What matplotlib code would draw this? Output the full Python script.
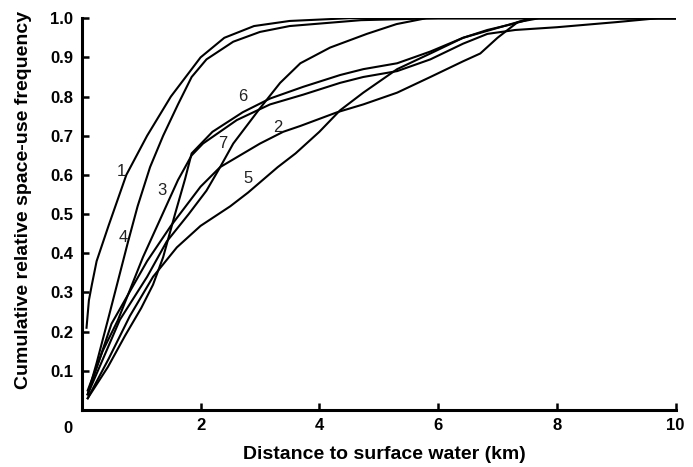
import matplotlib
matplotlib.use("Agg")
import matplotlib.pyplot as plt

plt.rcParams['font.family'] = ['Liberation Sans', 'DejaVu Sans']

# curves: distance (km), cumulative frequency
x1 = [0.08, 0.12, 0.17, 0.25, 0.45, 0.75, 1.1, 1.5, 2.0, 2.4, 2.9, 3.5, 4.5, 10]
y1 = [0.21, 0.28, 0.32, 0.38, 0.47, 0.60, 0.70, 0.80, 0.90, 0.95, 0.98, 0.993, 1.0, 1.0]

x4 = [0.1, 0.25, 0.44, 0.61, 0.78, 0.94, 1.15, 1.37, 1.62, 1.85, 2.1, 2.55, 3.0, 3.5, 4.7, 6.0, 10]
y4 = [0.04, 0.12, 0.23, 0.33, 0.43, 0.52, 0.62, 0.70, 0.78, 0.85, 0.895, 0.94, 0.965, 0.98, 0.995, 1.0, 1.0]

x3 = [0.1, 0.35, 0.61, 1.03, 1.3, 1.62, 1.85, 2.04, 2.61, 3.17, 3.73, 4.35, 4.74, 5.31,
      5.87, 6.42, 6.83, 7.3, 8.0, 9.0, 9.7, 10]
y3 = [0.05, 0.15, 0.23, 0.39, 0.48, 0.587, 0.65, 0.68, 0.74, 0.78, 0.805, 0.835, 0.85, 0.865,
      0.895, 0.935, 0.96, 0.97, 0.977, 0.99, 1.0, 1.0]

x6 = [0.1, 0.44, 0.73, 1.0, 1.2, 1.37, 1.57, 1.74, 1.85, 2.2, 2.71, 3.17, 3.73, 4.35,
      4.74, 5.31, 5.87, 6.42, 6.83, 7.25, 7.6, 10]
y6 = [0.03, 0.11, 0.19, 0.26, 0.32, 0.39, 0.50, 0.59, 0.655, 0.71, 0.76, 0.795, 0.825, 0.855,
      0.87, 0.885, 0.915, 0.95, 0.97, 0.985, 1.0, 1.0]

x2 = [0.1, 0.5, 1.1, 1.5, 2.0, 2.33, 3.0, 3.39, 3.68, 4.3, 4.74, 5.31, 5.87, 6.42,
      6.71, 7.0, 7.17, 7.34, 7.7, 10]
y2 = [0.04, 0.22, 0.38, 0.47, 0.57, 0.62, 0.68, 0.71, 0.725, 0.76, 0.78, 0.81, 0.85, 0.89,
      0.91, 0.95, 0.97, 0.99, 1.0, 1.0]

x7 = [0.1, 0.64, 1.1, 1.43, 1.8, 2.1, 2.33, 2.55, 3.0, 3.34, 3.68, 4.18, 4.8, 5.3, 5.8, 10]
y7 = [0.04, 0.23, 0.34, 0.43, 0.50, 0.56, 0.62, 0.68, 0.77, 0.835, 0.885, 0.925, 0.96, 0.985, 1.0, 1.0]

x5 = [0.1, 0.45, 0.81, 1.2, 1.6, 2.0, 2.5, 2.8, 3.3, 3.6, 4.0, 4.35, 4.74, 5.31,
      5.87, 6.42, 6.88, 7.34, 7.55, 10]
y5 = [0.03, 0.13, 0.24, 0.34, 0.415, 0.47, 0.52, 0.555, 0.62, 0.655, 0.71, 0.765, 0.81, 0.87,
      0.91, 0.95, 0.97, 0.99, 1.0, 1.0]

curve_labels = ['1', '2', '3', '4', '5', '6', '7']
label_x = [0.66, 3.3, 1.35, 0.69, 2.8, 2.71, 2.38]
label_y = [0.61, 0.72, 0.56, 0.44, 0.59, 0.80, 0.68]

fig = plt.figure(figsize=(6.93, 4.67), dpi=100)
ax = fig.add_axes([0.118, 0.122, 0.857, 0.839])

for xs, ys in [(x1, y1), (x2, y2), (x3, y3), (x4, y4), (x5, y5), (x6, y6), (x7, y7)]:
    ax.plot(xs, ys, color='black', lw=1.5, solid_joinstyle='round')

for lab, lx, ly in zip(curve_labels, label_x, label_y):
    ax.text(lx, ly, lab, fontsize=12, color='#222222', ha='center', va='center')

ax.set_xlim(0, 10)
ax.set_ylim(0, 1.0)
ax.set_xticks([2, 4, 6, 8, 10])
ax.set_yticks([0.1, 0.2, 0.3, 0.4, 0.5, 0.6, 0.7, 0.8, 0.9, 1.0])
ax.set_yticklabels(['%.1f' % v for v in ax.get_yticks()])
ax.text(-0.024, -0.046, '0', transform=ax.transAxes, ha='center', va='center',
        fontsize=12, fontweight='bold')

for side in ['top', 'right']:
    ax.spines[side].set_visible(False)
for side in ['left', 'bottom']:
    ax.spines[side].set_linewidth(2.2)

ax.tick_params(direction='in', length=5, width=1.8, pad=6, labelsize=12)
for t in ax.get_xticklabels() + ax.get_yticklabels():
    t.set_fontweight('bold')

ax.set_xlabel('Distance to surface water (km)', fontsize=14, fontweight='bold')
ax.set_ylabel('Cumulative relative space-use frequency', fontsize=14, fontweight='bold')
ax.xaxis.set_label_coords(0.509, -0.092)
ax.yaxis.set_label_coords(-0.083, 0.535)

fig.savefig('out.png', dpi=100)
